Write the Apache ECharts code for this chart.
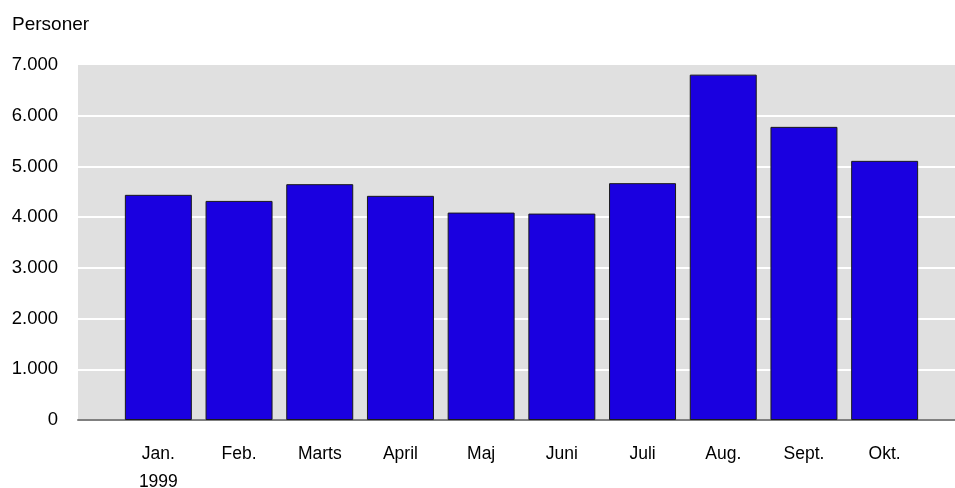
<!DOCTYPE html>
<html>
<head>
<meta charset="utf-8">
<script src="https://cdn.jsdelivr.net/npm/echarts@6/dist/echarts.min.js"></script>
<style>html,body{margin:0;padding:0;background:#fff}#c{width:955px;height:488px}</style>
</head>
<body>
<div id="c"></div>
<script>
const months = ['Jan.', 'Feb.', 'Marts', 'April', 'Maj', 'Juni', 'Juli', 'Aug.', 'Sept.', 'Okt.'];
const firstYear = '1999';
const persons = [4440, 4320, 4650, 4420, 4090, 4070, 4670, 6810, 5780, 5110];
const yTicks = [0, 1000, 2000, 3000, 4000, 5000, 6000, 7000];
const yTitle = 'Personer';

const categories = months.map((m, i) => i === 0 ? m + '\n' + firstYear : m);
const fmt = v => String(v).replace(/\B(?=(\d{3})+(?!\d))/g, '.');
const font = '"Liberation Sans", Arial, sans-serif';

const chart = echarts.init(document.getElementById('c'), null, {renderer: 'canvas'});
chart.setOption({
  animation: false,
  backgroundColor: '#ffffff',
  graphic: [{
    type: 'text', left: 12, top: 15,
    style: {text: yTitle, font: '19px ' + font, fill: '#000'}
  }],
  grid: [
    {left: 78, right: 0, top: 65, bottom: 68, show: true, backgroundColor: '#e0e0e0', borderWidth: 0, outerBoundsMode: 'none', containLabel: false},
    {left: 118, right: 30, top: 65, bottom: 68, outerBoundsMode: 'none', containLabel: false}
  ],
  xAxis: [
    {gridIndex: 0, type: 'category', data: [''], axisLine: {show: true, lineStyle: {color: '#808080', width: 2}},
     axisTick: {show: false}, axisLabel: {show: false}, splitLine: {show: false}},
    {gridIndex: 1, type: 'category', data: categories, axisLine: {show: false}, axisTick: {show: false},
     axisLabel: {fontFamily: font, fontSize: 17.5, color: '#000', margin: 20, lineHeight: 28, interval: 0}}
  ],
  yAxis: [
    {gridIndex: 0, type: 'value', min: yTicks[0], max: yTicks[yTicks.length - 1], interval: 1000,
     axisLine: {show: false}, axisTick: {show: false},
     axisLabel: {formatter: fmt, fontFamily: font, fontSize: 18.5, color: '#000', margin: 20},
     splitLine: {show: true, showMinLine: false, showMaxLine: false, lineStyle: {color: '#ffffff', width: 2}}},
    {gridIndex: 1, type: 'value', min: yTicks[0], max: yTicks[yTicks.length - 1], interval: 1000, show: false,
     splitLine: {show: false}}
  ],
  series: [{
    type: 'bar', xAxisIndex: 1, yAxisIndex: 1, data: persons,
    barCategoryGap: '17%',
    itemStyle: {color: '#1a00e0', borderColor: '#1a1a1a', borderWidth: 1}
  }]
});
</script>
</body>
</html>
